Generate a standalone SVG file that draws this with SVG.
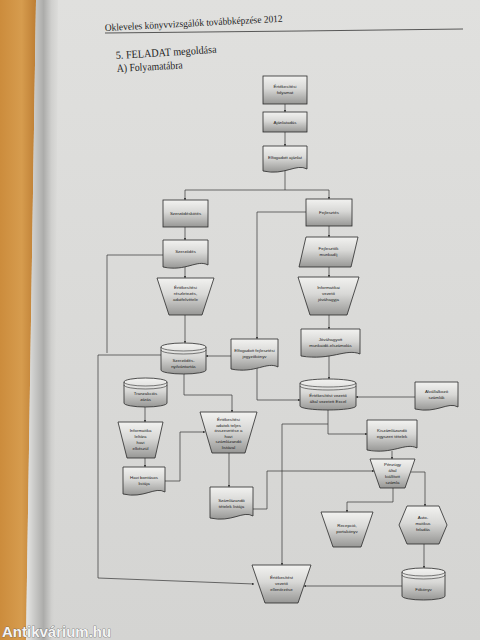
<svg xmlns="http://www.w3.org/2000/svg" width="480" height="640" viewBox="0 0 480 640">
<defs>
<linearGradient id="fillg" x1="0" y1="0" x2="0" y2="1">
<stop offset="0" stop-color="#f2f2f0"/>
<stop offset="0.45" stop-color="#d8d8d6"/>
<stop offset="1" stop-color="#979795"/>
</linearGradient>
<linearGradient id="wood" x1="0" y1="0" x2="1" y2="0">
<stop offset="0" stop-color="#cc8c3c"/>
<stop offset="0.6" stop-color="#d69c4e"/>
<stop offset="1" stop-color="#bd7e34"/>
</linearGradient>
<linearGradient id="gutter" x1="0" y1="0" x2="1" y2="0">
<stop offset="0" stop-color="#e6e6e4"/>
<stop offset="0.3" stop-color="#c6c6c4"/>
<stop offset="0.55" stop-color="#acacaa"/>
<stop offset="0.8" stop-color="#d0d0ce"/>
<stop offset="1" stop-color="#dcdcda"/>
</linearGradient>
<linearGradient id="page" x1="0" y1="0" x2="0" y2="1">
<stop offset="0" stop-color="#e0e0de"/>
<stop offset="1" stop-color="#d4d4d2"/>
</linearGradient>
<marker id="ah" viewBox="0 0 6 6" refX="6" refY="3" markerWidth="3.2" markerHeight="3.2" orient="auto">
<path d="M0,0 L6,3 L0,6 Z" fill="#222"/>
</marker>
</defs>
<style>
.n{fill:url(#fillg);stroke:#2a2a2a;stroke-width:0.8}
.t{font-family:"Liberation Sans",Arial,sans-serif;font-size:4.4px;fill:#1a1a1a;text-anchor:middle}
.c{fill:none;stroke:#333;stroke-width:0.7}
.a{marker-end:url(#ah)}
.h{font-family:"Liberation Serif","Times New Roman",serif;fill:#222}
</style>
<!-- background -->
<rect x="0" y="0" width="480" height="640" fill="url(#page)"/>
<polygon points="0,0 36,0 26,640 0,640" fill="url(#wood)"/>
<polygon points="36,0 58,0 54,640 26,640" fill="url(#gutter)"/>
<!-- header -->
<g id="header">
<text class="h" x="105" y="31" font-size="10" textLength="178" lengthAdjust="spacingAndGlyphs" transform="rotate(-3 105 31)">Okleveles könyvvizsgálók továbbképzése 2012</text>
<path d="M105,33 L300,31 L463,29" fill="none" stroke="#333" stroke-width="0.8"/>
<text class="h" x="116" y="59" font-size="11" textLength="101" lengthAdjust="spacingAndGlyphs" transform="rotate(-3.5 116 59)">5. FELADAT megoldása</text>
<text class="h" x="117" y="72" font-size="11" textLength="66" lengthAdjust="spacingAndGlyphs" transform="rotate(-3 117 72)">A) Folyamatábra</text>
</g>
<!-- connectors -->
<g id="connectors">
<path class="c a" d="M285,104 V112"/>
<path class="c a" d="M285,132 V146"/>
<path class="c" d="M285,170 V190"/>
<path class="c a" d="M285,190 H185 V200"/>
<path class="c a" d="M285,190 H329 V199"/>
<path class="c a" d="M185,227 V240"/>
<path class="c a" d="M185,266 V278"/>
<path class="c a" d="M185,315 V343"/>
<path class="c a" d="M329,226 V237"/>
<path class="c a" d="M329,267 V277"/>
<path class="c a" d="M329,315 V329"/>
<path class="c a" d="M329,356 V379"/>
<path class="c a" d="M306,212 H257 V339"/>
<path class="c a" d="M231,356 H206"/>
<path class="c a" d="M257,368 V400 H300"/>
<path class="c a" d="M415,397 H356"/>
<path class="c a" d="M184,374 V395 H232 V412"/>
<path class="c" d="M163,255 H107 V353"/>
<path class="c a" d="M161,355 H98 V578 L254,584"/>
<path class="c a" d="M145,407 V422"/>
<path class="c a" d="M145,458 V467"/>
<path class="c a" d="M165,481 H180 V432 H205"/>
<path class="c a" d="M229,453 V487"/>
<path class="c a" d="M253,509 H267 V471 H374"/>
<path class="c a" d="M328,410 V434 H367"/>
<path class="c a" d="M328,424 H282 V565"/>
<path class="c a" d="M392,451 V459"/>
<path class="c a" d="M393,488 V502 H347 V512"/>
<path class="c a" d="M411,472 H425 V506"/>
<path class="c a" d="M424,544 V568"/>
<path class="c a" d="M402,586 H304"/>
</g>
<!-- nodes -->
<g id="n1"><rect class="n" x="263" y="76" width="44" height="28"/><text class="t" x="285" y="88">Értékesítési</text><text class="t" x="285" y="94">folyamat</text></g>
<g id="n2"><rect class="n" x="263" y="112" width="44" height="20"/><text class="t" x="285" y="124">Ajánlatadás</text></g>
<g id="n3"><path class="n" d="M263,146 H307 V169 C296,163 285,176 263,171 Z"/><text class="t" x="285" y="159">Elfogadott ajánlat</text></g>
<g id="n4"><rect class="n" x="163" y="200" width="45" height="27"/><text class="t" x="185.5" y="215">Szerződéskötés</text></g>
<g id="n5"><rect class="n" x="306" y="199" width="46" height="27"/><text class="t" x="329" y="214">Fejlesztés</text></g>
<g id="n6"><path class="n" d="M163,240 H208 V265 C197,259 186,272 163,267 Z"/><text class="t" x="185.5" y="253">Szerződés</text></g>
<g id="n7"><polygon class="n" points="306,237 358,237 351,267 299,267"/><text class="t" x="328.5" y="250">Fejlesztők</text><text class="t" x="328.5" y="256">munkadíj</text></g>
<g id="n8"><polygon class="n" points="157,278 214,278 202,315 169,315"/><text class="t" x="185.5" y="289">Értékesítési</text><text class="t" x="185.5" y="295">részletezés,</text><text class="t" x="185.5" y="301">adatfelvétele</text></g>
<g id="n9"><polygon class="n" points="298,277 359,277 347,315 310,315"/><text class="t" x="328.5" y="289">Informatikai</text><text class="t" x="328.5" y="295">vezető</text><text class="t" x="328.5" y="301">jóváhagyja</text></g>
<g id="n10"><path class="n" d="M161,347 A22.5,4 0 0 1 206,347 V370 A22.5,4 0 0 1 161,370 Z"/><path d="M161,347 A22.5,4 0 0 0 206,347 M161,350 A22.5,4 0 0 0 206,350" fill="none" stroke="#2a2a2a" stroke-width="0.6"/><text class="t" x="183.5" y="362">Szerződés-</text><text class="t" x="183.5" y="368">nyilvántartás</text></g>
<g id="n11"><path class="n" d="M231,339 H278 V367 C267,361 255,374 231,369 Z"/><text class="t" x="254.5" y="352">Elfogadott fejlesztési</text><text class="t" x="254.5" y="358">jegyzőkönyv</text></g>
<g id="n12"><path class="n" d="M301,329 H360 V354 C346,348 331,361 301,356 Z"/><text class="t" x="330.5" y="341">Jóváhagyott</text><text class="t" x="330.5" y="347">munkaidő-elszámolás</text></g>
<g id="n13"><path class="n" d="M300,383 A28,4 0 0 1 356,383 V406 A28,4 0 0 1 300,406 Z"/><path d="M300,383 A28,4 0 0 0 356,383 M300,386 A28,4 0 0 0 356,386" fill="none" stroke="#2a2a2a" stroke-width="0.6"/><text class="t" x="328" y="397">Értékesítést vezető</text><text class="t" x="328" y="403">által vezetett Excel</text></g>
<g id="n14"><path class="n" d="M415,382 H458 V407 C448,401 437,414 415,409 Z"/><text class="t" x="436.5" y="393">Alvállalkozó</text><text class="t" x="436.5" y="399">számlák</text></g>
<g id="n15"><path class="n" d="M124,382 A21.5,4 0 0 1 167,382 V403 A21.5,4 0 0 1 124,403 Z"/><path d="M124,382 A21.5,4 0 0 0 167,382 M124,385 A21.5,4 0 0 0 167,385" fill="none" stroke="#2a2a2a" stroke-width="0.6"/><text class="t" x="145.5" y="395">Tranzakciós</text><text class="t" x="145.5" y="401">zárás</text></g>
<g id="n16"><polygon class="n" points="118,422 163,422 155,458 127,458"/><text class="t" x="140.5" y="432">Informatika</text><text class="t" x="140.5" y="438">leltára</text><text class="t" x="140.5" y="444">havi</text><text class="t" x="140.5" y="450">elkészül</text></g>
<g id="n17"><path class="n" d="M123,467 H165 V492 C155,486 144,499 123,494 Z"/><text class="t" x="144" y="479">Havi bontásos</text><text class="t" x="144" y="485">listája</text></g>
<g id="n18"><polygon class="n" points="200,412 257,412 245,453 212,453"/><text class="t" x="228.5" y="421">Értékesítési</text><text class="t" x="228.5" y="426.5">adatok teljes</text><text class="t" x="228.5" y="432">összevetése a</text><text class="t" x="228.5" y="437.5">havi</text><text class="t" x="228.5" y="443">számlázandó</text><text class="t" x="228.5" y="448.5">listával</text></g>
<g id="n19"><path class="n" d="M210,487 H253 V516 C243,510 232,523 210,518 Z"/><text class="t" x="231.5" y="502">Számlázandó</text><text class="t" x="231.5" y="508">tételek listája</text></g>
<g id="n20"><path class="n" d="M367,420 H417 V448 C405,442 393,455 367,450 Z"/><text class="t" x="392" y="432">Kiszámlázandó</text><text class="t" x="392" y="438">egyszeri tételek</text></g>
<g id="n21"><polygon class="n" points="370,459 415,459 405,488 380,488"/><text class="t" x="392.5" y="466">Pénzügy</text><text class="t" x="392.5" y="472">által</text><text class="t" x="392.5" y="478">kiállított</text><text class="t" x="392.5" y="484">számla</text></g>
<g id="n22"><polygon class="n" points="321,512 373,512 361,547 333,547"/><text class="t" x="347" y="527">Recepció,</text><text class="t" x="347" y="533">portakönyv</text></g>
<g id="n23"><polygon class="n" points="399,525 407,506 439,506 447,525 439,544 407,544"/><text class="t" x="423" y="519">Auto-</text><text class="t" x="423" y="525">matikus</text><text class="t" x="423" y="531">feladás</text></g>
<g id="n24"><path class="n" d="M402,572 A21.5,4 0 0 1 445,572 V596 A21.5,4 0 0 1 402,596 Z"/><path d="M402,572 A21.5,4 0 0 0 445,572 M402,575 A21.5,4 0 0 0 445,575" fill="none" stroke="#2a2a2a" stroke-width="0.6"/><text class="t" x="423.5" y="591">Főkönyv</text></g>
<g id="n25"><polygon class="n" points="252,565 311,565 298,603 265,603"/><text class="t" x="281.5" y="579">Értékesítést</text><text class="t" x="281.5" y="585">vezető</text><text class="t" x="281.5" y="591">ellenőrzése</text></g>
<!-- watermark -->
<text x="2" y="637" font-family="'Liberation Sans',Arial,sans-serif" font-weight="bold" font-size="15" fill="#f4f4f4" stroke="#555" stroke-width="0.6" paint-order="stroke">Antikvárium.hu</text>
</svg>
